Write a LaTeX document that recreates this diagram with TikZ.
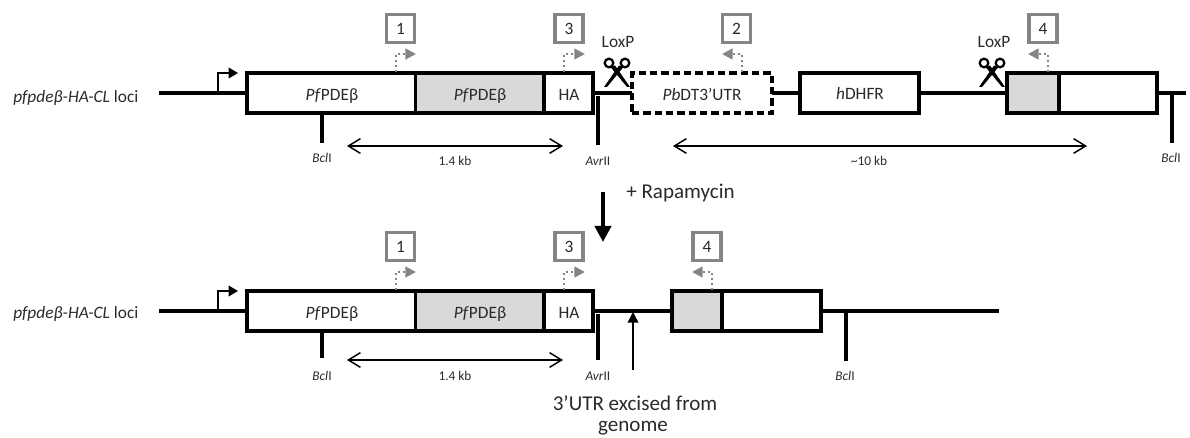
\documentclass[tikz,border=0pt]{standalone}
\usepackage{fontspec}
\setmainfont{Carlito}
\usetikzlibrary{arrows.meta}
\definecolor{ink}{HTML}{2B2B2B}
\definecolor{fillgrey}{HTML}{D9D9D9}
\definecolor{framegrey}{HTML}{858585}
\tikzset{
  seg/.style={draw=black,line width=2.3pt,inner sep=0pt,outer sep=0pt,line join=miter},
  plainseg/.style={seg,fill=white},
  greyseg/.style={seg,fill=fillgrey},
  dashseg/.style={seg,fill=white,dash pattern=on 5.5pt off 3pt},
  dna/.style={line width=2.3pt},
  tick/.style={line width=2.6pt},
  numbox/.style={draw=framegrey,line width=2.5pt,fill=white,minimum width=21pt,minimum height=21pt,inner sep=0pt,text=ink,font=\fontsize{13}{13}\selectfont},
  lbl/.style={anchor=base,text=ink,inner sep=0pt,font=\fontsize{13}{13}\selectfont},
  small/.style={anchor=base,text=ink,inner sep=0pt,font=\fontsize{10}{10}\selectfont},
  kb/.style={anchor=base,text=ink,inner sep=0pt,font=\fontsize{10}{10}\selectfont},
  big/.style={anchor=base,text=ink,inner sep=0pt,font=\fontsize{15.8}{15.8}\selectfont},
  primer/.style={draw=framegrey,line width=1.8pt,dash pattern=on 1.8pt off 1.9pt,-{Triangle[length=8pt,width=8pt,fill=framegrey]}},
  span/.style={line width=1.1pt,{Straight Barb[length=9pt,width=11pt]}-{Straight Barb[length=9pt,width=11pt]}},
  promoter/.style={line width=1pt,-{Triangle[length=7pt,width=8pt]}},
}
% name, x1, x2, y1, y2, style, text
\newcommand\segbox[7]{\node[#6,minimum width={(#3-#2)*0.75pt},minimum height={(#5-#4)*0.75pt}] (#1) at ({(#2+#3)/2},{(#4+#5)/2}) {};}
% scissors with horizontal shift
\newcommand\cutter[1]{%
  \begin{scope}[xshift=#1*0.75pt]
    \draw[line width=1.7pt] (609,63) circle (4.3);
    \draw[line width=1.7pt] (625,63) circle (4.3);
    \fill (610.5,67) -- (615,65.5) -- (630,87) -- (627,87) -- cycle;
    \fill (623.5,67) -- (619,65.5) -- (604,87) -- (607,87) -- cycle;
  \end{scope}}
% left part of a row: prefix, top y, tick bottom, span y, small base, kb base, name offset
\newcommand\leftrow[7]{%
  \segbox{#1a}{247}{415.5}{#2}{#2+40}{plainseg}{}
  \segbox{#1b}{415.5}{544}{#2}{#2+40}{greyseg}{}
  \segbox{#1c}{544}{593}{#2}{#2+40}{plainseg}{}
  \coordinate (#1start) at (159,#2+20);
  \draw[dna] (#1start) -- (#1start -| #1a.west);
  \coordinate (#1promA) at (218,#2+20);
  \coordinate (#1promB) at (238,#2);
  \draw[promoter] (#1promA) |- (#1promB);
  \node[anchor=base west,text=ink,inner sep=0pt,font=\fontsize{13}{13}\selectfont] (#1name) at (13,#2+#7) {\textit{pfpdeβ-HA-CL} loci};
  \node[lbl] (#1ta) at (332,#2+27.5) {\textit{Pf}PDEβ};
  \node[lbl] (#1tb) at (480,#2+27.5) {\textit{Pf}PDEβ};
  \node[lbl] (#1tc) at (569,#2+27.5) {HA};
  \node[numbox] (#1n1) at (400.5,#2-44.5) {1};
  \node[numbox] (#1n3) at (569,#2-44.5) {3};
  \coordinate (#1p1) at (396,#2-1);
  \coordinate (#1q1) at (416,#2-19);
  \draw[primer] (#1p1) |- (#1q1);
  \coordinate (#1p3) at (564,#2-1);
  \coordinate (#1q3) at (585,#2-19);
  \draw[primer] (#1p3) |- (#1q3);
  \coordinate (#1t1) at (322,#3);
  \draw[tick] (#1t1) -- (#1t1 |- #1a.south);
  \node[small] (#1bcl) at (322,#5) {\textit{Bcl}I};
  \coordinate (#1s1) at (347,#4);
  \coordinate (#1s2) at (563,#4);
  \draw[span] (#1s1) -- (#1s2);
  \node[kb] (#1kb) at (455,#6) {1.4 kb};
  \coordinate (#1t2) at (598,#3+2);
  \coordinate (#1t2a) at (598,#2+23);
  \draw[tick] (#1t2) -- (#1t2a);
  \node[small] (#1avr) at (598,#6) {\textit{Avr}II};
}
\begin{document}
\begin{tikzpicture}[x=0.75pt,y=-0.75pt]
\useasboundingbox (0,0) rectangle (1190,438);
\fill[white] (0,0) rectangle (1190,438);

% ---- top row
\segbox{d}{632}{772}{73}{113}{dashseg}{}
\segbox{h}{800}{919}{73}{113}{plainseg}{}
\segbox{g}{1007}{1059}{73}{113}{greyseg}{}
\segbox{w}{1059}{1157}{73}{113}{plainseg}{}
\coordinate (endT) at (1186,93);
\draw[dna] (d.east) -- (h.west);
\draw[dna] (h.east) -- (g.west);
\draw[dna] (w.east) -- (endT);
\leftrow{T}{73}{143}{146}{163}{166}{30}
\draw[dna] (Tc.east |- d.west) -- (d.west);
\node[lbl] (dt) at (702,100.5) {\textit{Pb}DT3’UTR};
\node[lbl] (ht) at (860,100) {\textit{h}DHFR};
\node[numbox] (n2) at (736.5,28.5) {2};
\node[numbox] (n4) at (1043,28.5) {4};
\coordinate (p2) at (742,72);
\coordinate (q2) at (722,54);
\draw[primer] (p2) |- (q2);
\coordinate (p4) at (1048,72);
\coordinate (q4) at (1028,54);
\draw[primer] (p4) |- (q4);
\coordinate (t3) at (1172,143);
\draw[tick] (t3) -- (t3 |- endT);
\node[small] (bcl3) at (1171,163) {\textit{Bcl}I};
\coordinate (s3) at (673,146);
\coordinate (s4) at (1087,146);
\draw[span] (s3) -- (s4);
\node[kb] (kb2) at (869,166) {\textasciitilde 10 kb};
\node[lbl] (lox1) at (618,48) {LoxP};
\node[lbl] (lox2) at (994,48) {LoxP};
\cutter{0}
\cutter{375}

% ---- rapamycin arrow
\coordinate (r1) at (603,192);
\coordinate (r2) at (603,242);
\draw[line width=3pt,-{Triangle[length=12pt,width=12pt]}] (r1) -- (r2);
\node[big,anchor=base west] (rap) at (626,199) {+ Rapamycin};

% ---- bottom row
\segbox{bg}{672}{722}{291}{331}{greyseg}{}
\segbox{bw}{722}{821}{291}{331}{plainseg}{}
\coordinate (endB) at (999,311);
\draw[dna] (bw.east) -- (endB);
\leftrow{B}{291}{358}{360}{381}{381}{28}
\draw[dna] (Bc.east |- bg.west) -- (bg.west);
\node[numbox] (bn4) at (707,246.5) {4};
\coordinate (bp4) at (712,290);
\coordinate (bq4) at (692,272);
\draw[primer] (bp4) |- (bq4);
\coordinate (bt) at (846,361);
\draw[tick] (bt) -- (bt |- endB);
\node[small] (bbcl) at (845,381) {\textit{Bcl}I};
\coordinate (u1) at (633,370);
\coordinate (u2) at (633,312);
\draw[line width=1.1pt,-{Triangle[length=8pt,width=8pt]}] (u1) -- (u2);
\node[big] (ex1) at (635,411) {3’UTR excised from};
\node[big] (ex2) at (633,432) {genome};
\end{tikzpicture}
\end{document}
